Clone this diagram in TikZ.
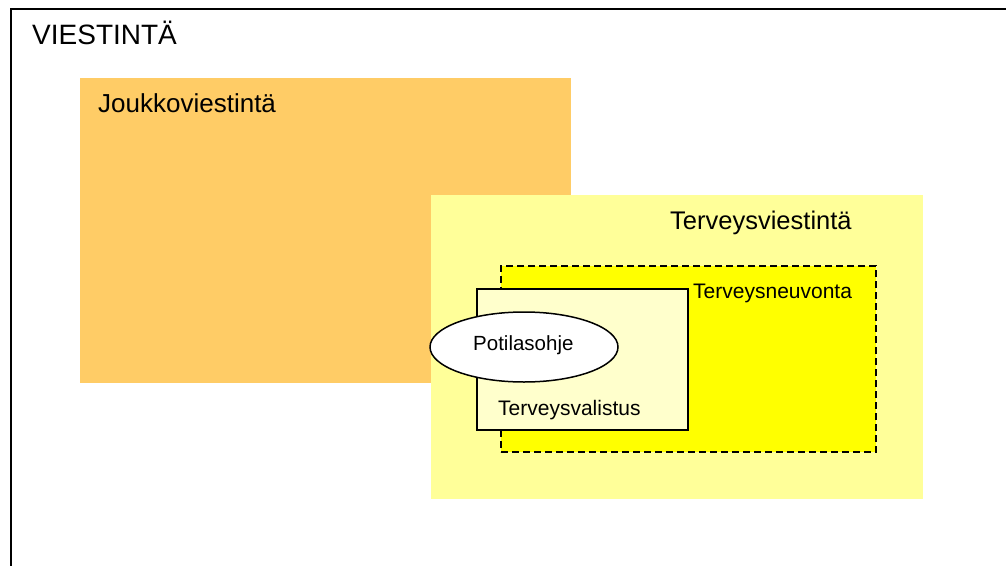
\documentclass[tikz,border=0pt]{standalone}
\usepackage{fontspec}
\setmainfont{Liberation Sans}
\usetikzlibrary{positioning,shapes.geometric}
\definecolor{joukko}{HTML}{FFCC66}
\definecolor{terveys}{HTML}{FFFF99}
\definecolor{neuvonta}{HTML}{FFFF00}
\definecolor{valistus}{HTML}{FFFFCC}

\begin{document}
\begin{tikzpicture}[x=1pt,y=-1pt,
 box/.style = {anchor=north west,inner sep=0pt,outer sep=0pt},
 txtbig/.style = {anchor=base west,inner sep=0pt,font=\fontsize{26}{30}\selectfont},
 txtsmall/.style = {anchor=base west,inner sep=0pt,font=\fontsize{21}{25}\selectfont},
]
\useasboundingbox (0,0) rectangle (1006,565);
\clip (0,0) rectangle (1006,565);

% outer frame
\draw[line width=2.5pt] (11,9) rectangle (1030,590);
\node (viest) [txtbig,font=\fontsize{28}{32}\selectfont] at (32,44) {VIESTINTÄ};

% joukkoviestinta
\node (jouk) [box,fill=joukko,minimum width=491pt,minimum height=305pt] at (80,78) {};
\node (joukt) [txtbig] at (98,112) {Joukkoviestintä};

% terveysviestinta
\node (terv) [box,fill=terveys,minimum width=492pt,minimum height=304pt] at (431,195) {};
\node (tervt) [txtbig,font=\fontsize{25.5}{30}\selectfont] at (670,229) {Terveysviestintä};

% neuvonta (dashed)
\node (neuv) [box,fill=neuvonta,draw,line width=2pt,dash pattern=on 7pt off 4pt,
  minimum width=375pt,minimum height=186pt] at (501,266) {};
\node (neuvt) [txtsmall] at (693,298) {Terveysneuvonta};

% valistus
\node (val) [box,fill=valistus,draw,line width=2pt,minimum width=211pt,minimum height=141pt] at (477,289) {};
\node (valt) [txtsmall] at (498,415) {Terveysvalistus};

% potilasohje
\node (pot) [ellipse,draw,fill=white,line width=1.5pt,inner sep=0pt,
  minimum width=188pt,minimum height=70pt] at (524,347) {};
\node (pott) [txtsmall,font=\fontsize{20.5}{24}\selectfont] at (473,350) {Potilasohje};
\end{tikzpicture}
\end{document}
